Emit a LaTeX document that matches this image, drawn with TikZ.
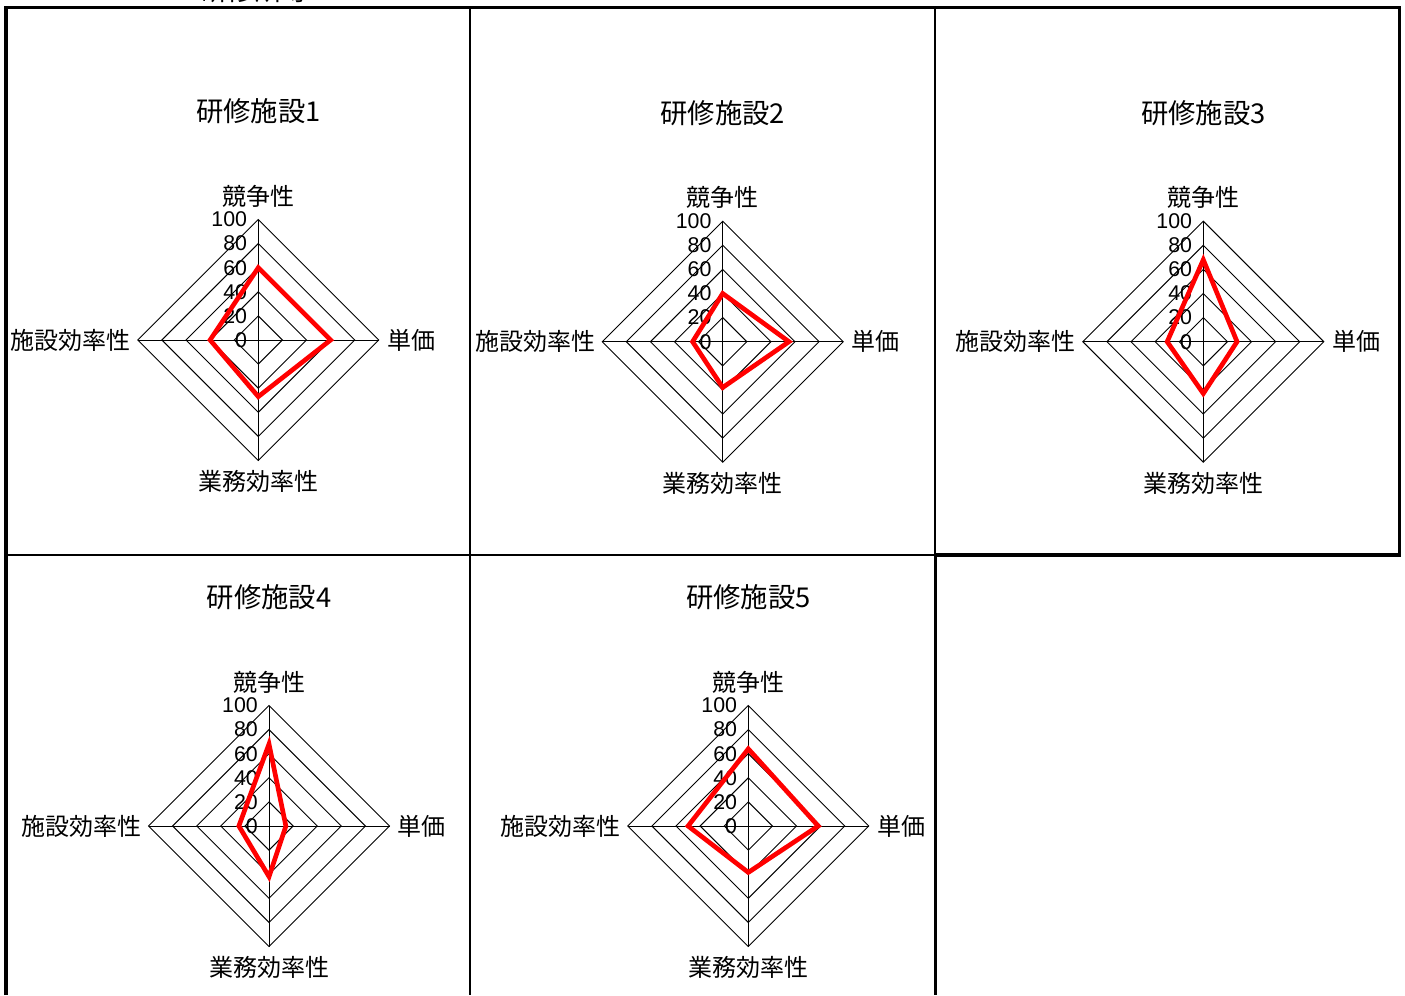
\documentclass[tikz,border=0pt]{standalone}
\usepackage{fontspec}
\setmainfont{Noto Sans CJK JP}
\newfontfamily\numfont{Liberation Sans}
\usetikzlibrary{positioning}

\tikzset{
  web/.style={draw, line width=0.7pt},
  score/.style={draw=red, line width=3.5pt},
  title/.style={font=\fontsize{20.5}{22}\selectfont, inner sep=0pt},
  axis/.style={font=\fontsize{18}{20}\selectfont, inner sep=0pt},
  tick/.style={font=\numfont\fontsize{16}{18}\selectfont, inner sep=0pt, anchor=east},
  heavy/.style={line width=2.4pt},
  light/.style={line width=1pt}
}

\newcommand{\radar}[7]{%
\begin{scope}[shift={#2}]
\coordinate (#1) at (0,0);
\coordinate (#1n) at (0,-120.5);
\coordinate (#1e) at (120.5,0);
\coordinate (#1s) at (0,120.5);
\coordinate (#1w) at (-120.5,0);
\foreach \r in {0.2,0.4,0.6,0.8,1}
  \draw[web] (0,-120.5*\r) -- (120.5*\r,0) -- (0,120.5*\r) -- (-120.5*\r,0) -- cycle;
\draw[web] (#1n) -- (#1s) (#1w) -- (#1e);
\foreach \v in {0,20,...,100}
  \node[tick] (#1t\v) at (-11,-1.205*\v) {\v};
\draw[score] (0,-1.205*#4) -- (1.205*#5,0) -- (0,1.205*#6) -- (-1.205*#7,0) -- cycle;
\node[axis, above=9pt of #1n] (#1a) {競争性};
\node[axis, right=6pt of #1e] (#1b) {単価};
\node[axis, below=7.5pt of #1s] (#1c) {業務効率性};
\node[axis, left=5pt of #1w] (#1d) {施設効率性};
\node[title] (#1h) at (0,-229) {#3};
\end{scope}}

\begin{document}
\begin{tikzpicture}[x=0.75pt, y=-0.75pt]
\useasboundingbox (0,0) rectangle (1405,995);

\node[title, anchor=base east] (head) at (310,1) {研修所等};

\draw[light] (470,7.5) -- (470,995) (935,7.5) -- (935,555) (6,555) -- (935,555);
\draw[heavy] (6,995) -- (6,7.5) -- (1399.5,7.5) -- (1399.5,555) -- (935.5,555) -- (935.5,995);

\radar{p1}{(258.3,340)}{研修施設1}{60}{60}{47}{40}
\radar{p2}{(722.7,341.7)}{研修施設2}{40}{55}{38}{25}
\radar{p3}{(1203.3,341.7)}{研修施設3}{68}{28}{43}{30}
\radar{p4}{(269,826)}{研修施設4}{68}{14}{42}{25}
\radar{p5}{(748.3,826)}{研修施設5}{64}{58}{38.5}{50}

\end{tikzpicture}
\end{document}
